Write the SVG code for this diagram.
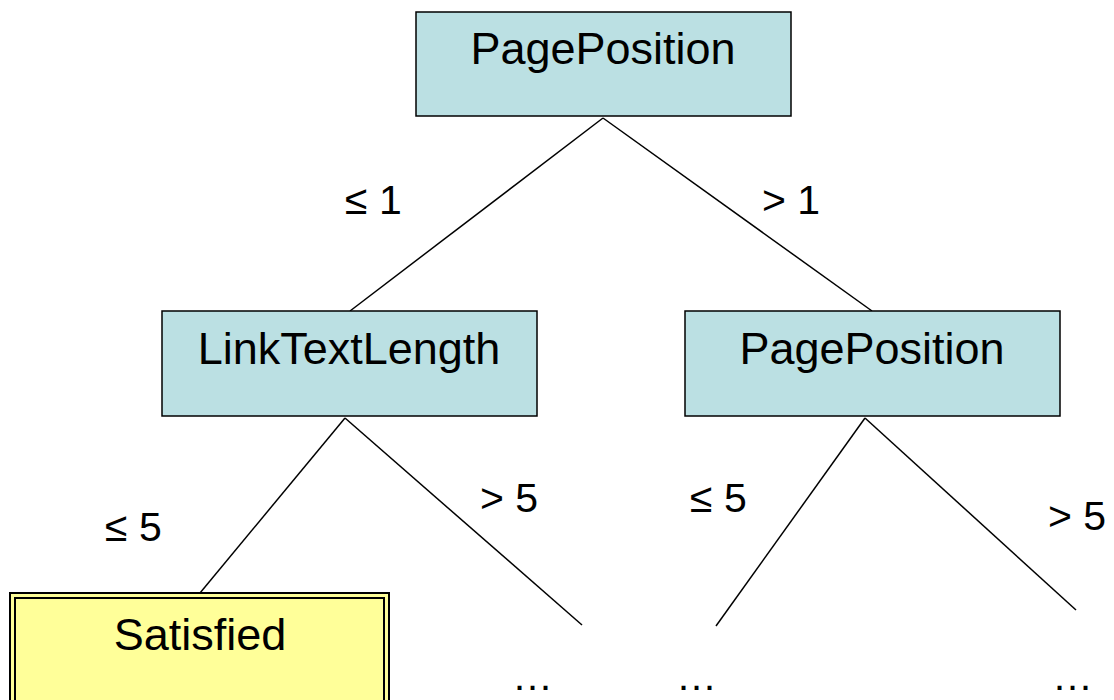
<svg xmlns="http://www.w3.org/2000/svg" width="1114" height="700" viewBox="0 0 1114 700">
<style>
.box{fill:#BBE0E3;stroke:#000;stroke-width:1.5}
.leaf{fill:#FFFF99;stroke:#000;stroke-width:2}
.t{font-family:"Liberation Sans",Arial,sans-serif;font-size:45px;fill:#000;text-anchor:middle}
.l{font-family:"Liberation Sans",Arial,sans-serif;font-size:41px;fill:#000}
.c line{stroke:#000;stroke-width:1.5}
</style>
<rect width="1114" height="700" fill="#fff"/>
<g class="c" id="connectors">
<line x1="603" y1="118" x2="350" y2="311"/>
<line x1="603" y1="118" x2="872" y2="311"/>
<line x1="345" y1="418" x2="200" y2="593"/>
<line x1="345" y1="418" x2="582" y2="625"/>
<line x1="865" y1="418" x2="716" y2="626"/>
<line x1="865" y1="418" x2="1076" y2="610"/>
</g>
<g id="root">
<rect class="box" x="416" y="12" width="375" height="104"/>
<text class="t" x="603" y="64">PagePosition</text>
</g>
<g id="left">
<rect class="box" x="162" y="311" width="375" height="105"/>
<text class="t" x="349" y="364">LinkTextLength</text>
</g>
<g id="right">
<rect class="box" x="685" y="311" width="375" height="105"/>
<text class="t" x="872" y="364">PagePosition</text>
</g>
<g id="satisfied">
<rect class="leaf" x="10" y="593" width="379" height="120"/>
<rect class="leaf" x="15" y="598" width="369" height="110"/>
<text class="t" x="200" y="650">Satisfied</text>
</g>
<g id="labels">
<text class="l" x="345" y="214">≤ 1</text>
<text class="l" x="762" y="214">&gt; 1</text>
<text class="l" x="105" y="541">≤ 5</text>
<text class="l" x="480" y="512">&gt; 5</text>
<text class="l" x="690" y="512">≤ 5</text>
<text class="l" x="1048" y="530">&gt; 5</text>
</g>
<g id="ellipses">
<text class="l" x="512" y="690">…</text>
<text class="l" x="676" y="690">…</text>
<text class="l" x="1052" y="690">…</text>
</g>
</svg>
